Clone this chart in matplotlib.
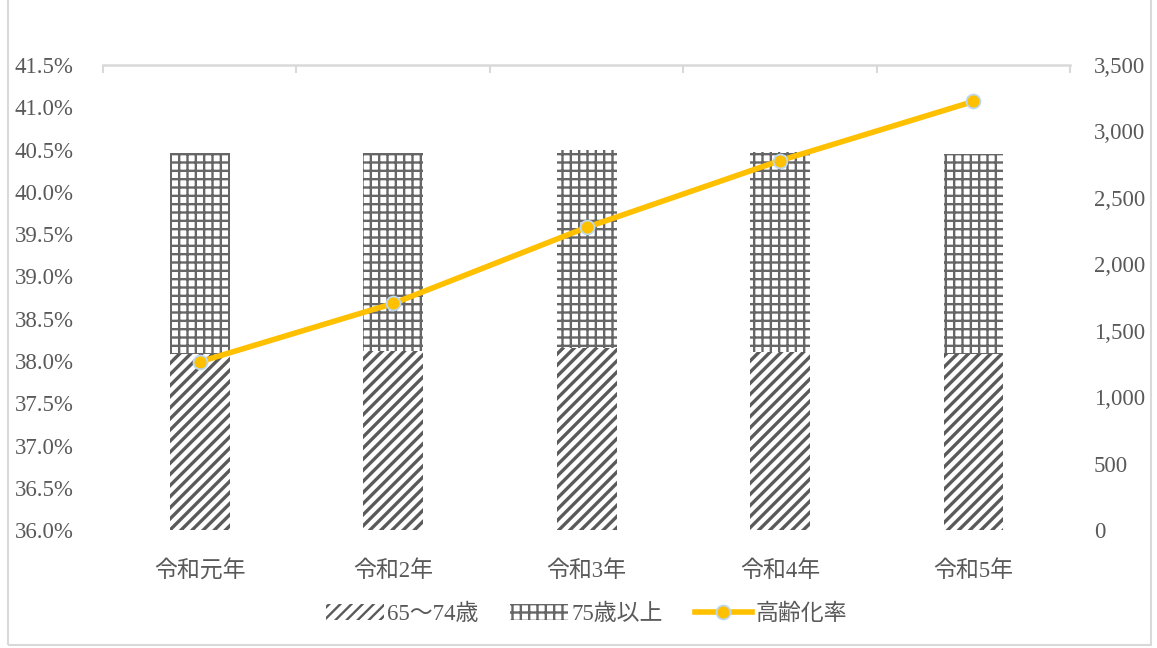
import matplotlib
matplotlib.use("Agg")
import matplotlib.pyplot as plt
from matplotlib.patches import Rectangle, Patch
from matplotlib.lines import Line2D

plt.rcParams['font.family'] = ['Liberation Serif', 'Noto Sans CJK JP', 'DejaVu Sans']

# データ
nendo = ['令和元年', '令和2年', '令和3年', '令和4年', '令和5年']
zenki = [1325, 1350, 1368, 1342, 1325]      # 65～74歳
kouki = [1515, 1485, 1492, 1501, 1503]      # 75歳以上
kourei_ritsu = [37.99, 38.68, 39.58, 40.37, 41.07]  # 高齢化率 (%)

txt = '#595959'
fig = plt.figure(figsize=(11.57, 6.48), dpi=100)
fig.patches.append(Rectangle((0.007, 0.005), 0.988, 1.2, transform=fig.transFigure,
                             fill=False, edgecolor='#D9D9D9', linewidth=1.5))

ax = fig.add_axes([0.089, 0.182, 0.836, 0.7176])
ax2 = ax.twinx()

x = range(len(nendo))
plt.rcParams['hatch.linewidth'] = 2.4
ax2.bar(x, zenki, width=0.31, color='white', edgecolor='#5a5a5a', linewidth=0, hatch='///')
h1 = Patch(facecolor='white', edgecolor='#5a5a5a', linewidth=0, hatch='///')
plt.rcParams['hatch.linewidth'] = 1.7
ax2.bar(x, kouki, width=0.31, bottom=zenki, color='white', edgecolor='#666666',
        linewidth=0, hatch='++')
h2 = Patch(facecolor='white', edgecolor='#666666', linewidth=0, hatch='++')
ax2.set_ylim(0, 3500)
ax2.set_yticks(range(0, 3501, 500))
ax2.set_yticklabels([f'{v:,}' for v in range(0, 3501, 500)])

ax.plot(x, kourei_ritsu, color='#FFC000', linewidth=4, marker='o', markersize=10,
        markerfacecolor='#FFC000', markeredgecolor='#BDD7EE', markeredgewidth=1.3)
ax.set_ylim(36.0, 41.5)
ax.set_yticks([36 + 0.5 * i for i in range(12)])
ax.set_yticklabels([f'{36 + 0.5 * i:.1f}%' for i in range(12)])
ax.set_zorder(ax2.get_zorder() + 1)
ax.patch.set_visible(False)

ax.set_xlim(-0.5, len(nendo) - 0.5)
ax.set_xticks(list(x))
ax.set_xticklabels(nendo)
ax.set_xticks([i - 0.5 for i in range(len(nendo) + 1)], minor=True)

for a in (ax, ax2):
    for s in a.spines.values():
        s.set_visible(False)
ax.spines['top'].set_visible(True)
ax.spines['top'].set_color('#D9D9D9')
ax.spines['top'].set_linewidth(1.8)

fs = 16.5
ax.tick_params(axis='x', which='major', length=0, pad=22, labelsize=fs, labelcolor=txt)
ax.tick_params(axis='x', which='minor', top=True, bottom=False, direction='in',
               length=6, width=1.5, color='#D9D9D9')
ax.tick_params(axis='y', length=0, pad=21, labelsize=fs, labelcolor=txt)
ax2.tick_params(axis='y', length=0, pad=17, labelsize=fs, labelcolor=txt)

handles = [
    h1, h2,
    Line2D([], [], color='#FFC000', linewidth=4, marker='o', markersize=10,
           markerfacecolor='#FFC000', markeredgecolor='#BDD7EE', markeredgewidth=1.3),
]
fig.legend(handles, ['65～74歳', '75歳以上', '高齢化率'], loc='center',
           bbox_to_anchor=(0.507, 0.052), ncol=3, frameon=False, fontsize=fs,
           labelcolor=txt, handlelength=2.5, handleheight=0.7, handletextpad=0.15,
           columnspacing=1.4)

fig.savefig('out.png', dpi=100)
